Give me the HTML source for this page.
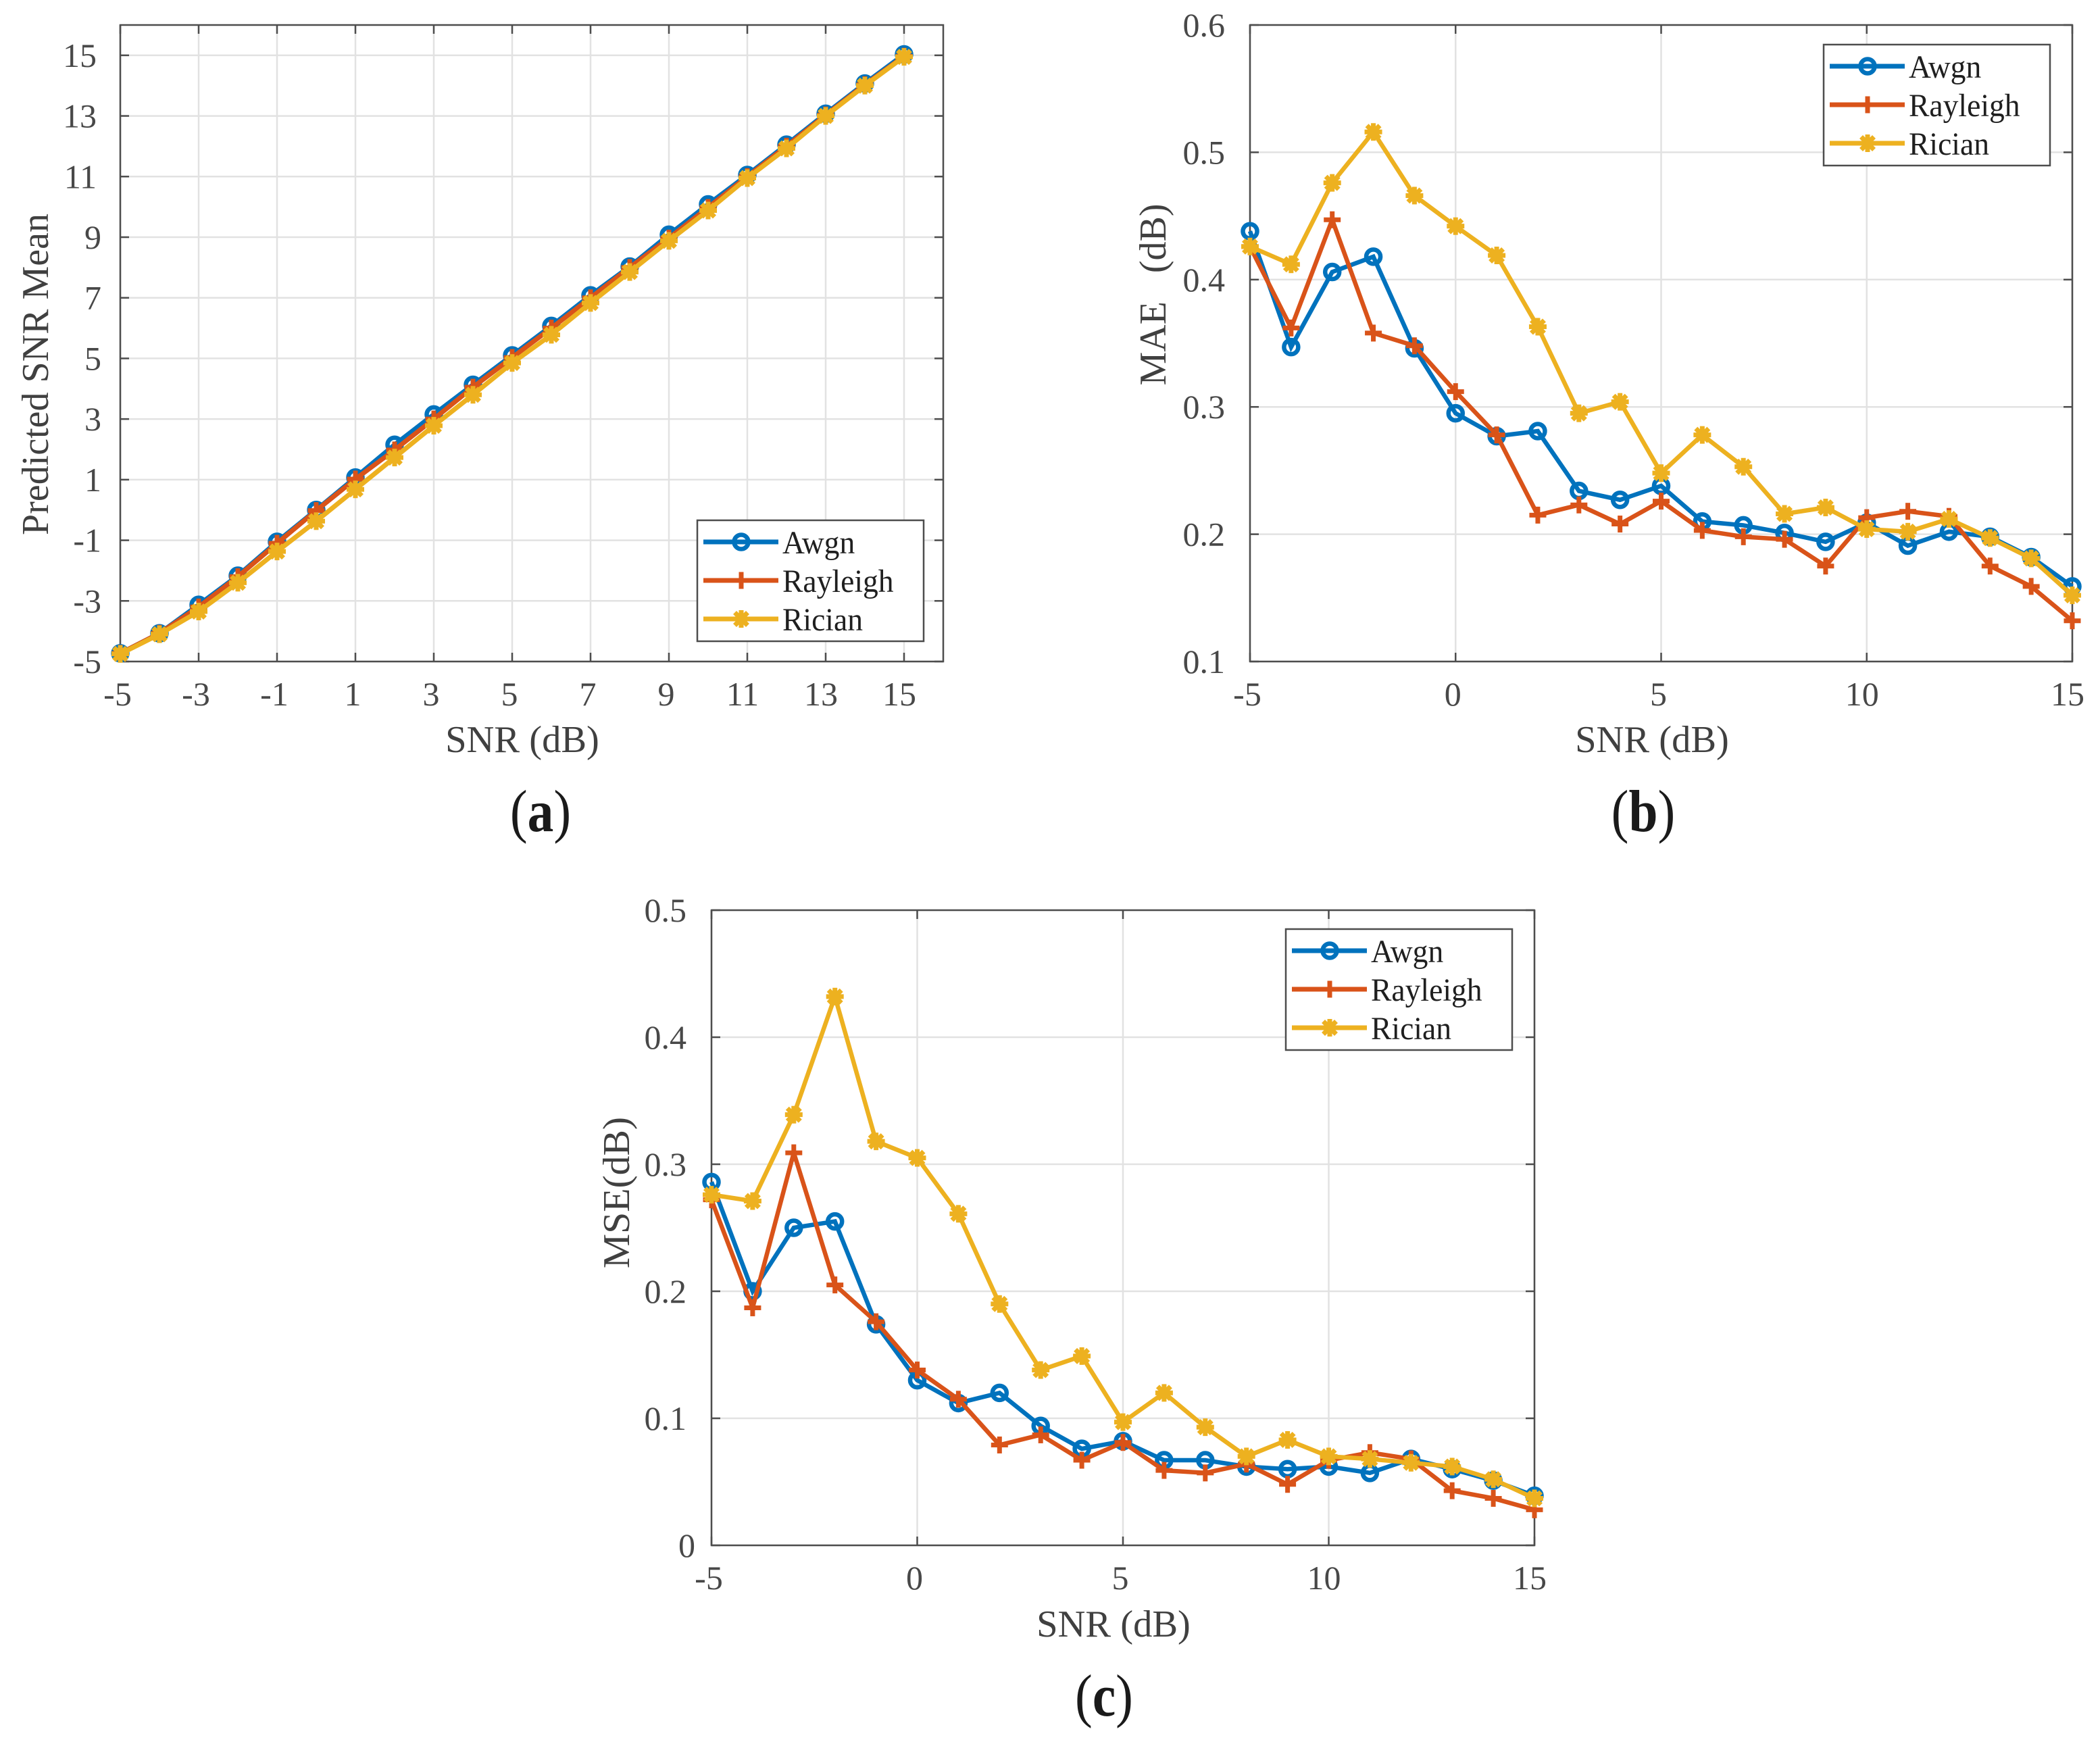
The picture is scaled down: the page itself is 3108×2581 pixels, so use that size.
<!DOCTYPE html>
<html lang="en">
<head>
<meta charset="utf-8">
<title>SNR estimation charts</title>
<style>
html,body{margin:0;padding:0;background:#fff;}
svg{display:block;}
text{font-family:"Liberation Serif",serif;}
</style>
</head>
<body>
<svg id="figure" xmlns="http://www.w3.org/2000/svg" width="3108" height="2581" viewBox="0 0 3108 2581">
  <rect x="0" y="0" width="3108" height="2581" fill="#fff"/>
  <g id="panel-a"></g>
  <g id="panel-b"></g>
  <g id="panel-c"></g>

  <text transform="translate(773,1113) scale(1.01,1)" text-anchor="middle" font-size="56" fill="#404040">SNR (dB)</text>
  <text transform="translate(71,554) rotate(-90)" text-anchor="middle" font-size="56" fill="#404040">Predicted SNR Mean</text>
  <text transform="translate(800,1230) scale(.88,1)" text-anchor="middle" font-size="88" fill="#1a1a1a">(<tspan font-weight="bold">a</tspan>)</text>

  <text transform="translate(2445,1113) scale(1.01,1)" text-anchor="middle" font-size="56" fill="#404040">SNR (dB)</text>
  <text transform="translate(1725,436) rotate(-90)" text-anchor="middle" font-size="56" fill="#404040" xml:space="preserve">MAE   (dB)</text>
  <text transform="translate(2432,1230) scale(.88,1)" text-anchor="middle" font-size="88" fill="#1a1a1a">(<tspan font-weight="bold">b</tspan>)</text>

  <text transform="translate(1648,2422) scale(1.01,1)" text-anchor="middle" font-size="56" fill="#404040">SNR (dB)</text>
  <text transform="translate(931,1765) rotate(-90) scale(1.03,1)" text-anchor="middle" font-size="56" fill="#404040">MSE(dB)</text>
  <text transform="translate(1634,2539) scale(.88,1)" text-anchor="middle" font-size="88" fill="#1a1a1a">(<tspan font-weight="bold">c</tspan>)</text>
</svg>
<script>
const snrValues = [-5,-4,-3,-2,-1,0,1,2,3,4,5,6,7,8,9,10,11,12,13,14,15];
const seriesNames = ['Awgn','Rayleigh','Rician'];

const meanAwgn = [-4.73,-4.07,-3.13,-2.17,-1.05,0.0,1.07,2.15,3.15,4.13,5.1,6.07,7.08,8.03,9.08,10.08,11.05,12.05,13.07,14.07,15.03];
const meanRayleigh = [-4.73,-4.07,-3.2,-2.2,-1.1,-0.02,1.02,1.98,3.0,4.05,5.03,6.0,7.0,8.0,8.97,9.98,11.0,12.0,13.03,14.03,14.97];
const meanRician = [-4.75,-4.1,-3.35,-2.4,-1.37,-0.37,0.68,1.73,2.78,3.8,4.85,5.78,6.83,7.85,8.88,9.88,10.95,11.93,13.0,14.0,14.95];

const maeAwgn = [.438,.347,.406,.418,.346,.295,.277,.281,.234,.227,.238,.21,.207,.201,.194,.209,.191,.202,.198,.182,.159];
const maeRayleigh = [.426,.362,.447,.358,.348,.312,.278,.215,.223,.208,.226,.203,.198,.196,.175,.213,.218,.214,.175,.159,.132];
const maeRician = [.426,.412,.476,.516,.466,.442,.419,.363,.295,.304,.248,.278,.253,.216,.221,.204,.202,.212,.197,.181,.152];

const mseAwgn = [.286,.200,.250,.255,.174,.130,.112,.120,.094,.076,.082,.067,.067,.062,.060,.062,.057,.068,.060,.051,.039];
const mseRayleigh = [.272,.187,.309,.205,.176,.138,.115,.079,.087,.067,.081,.059,.057,.064,.048,.067,.073,.068,.043,.037,.028];
const mseRician = [.276,.271,.339,.432,.318,.305,.261,.190,.138,.149,.097,.120,.093,.070,.083,.070,.068,.065,.062,.052,.037];

const ticksOddX = [-5,-3,-1,1,3,5,7,9,11,13,15];
const ticksOddY = [-5,-3,-1,1,3,5,7,9,11,13,15];
const ticksFiveX = [-5,0,5,10,15];
const ticksMaeY = [0.1,0.2,0.3,0.4,0.5,0.6];
const ticksMseY = [0,0.1,0.2,0.3,0.4,0.5];

const NS = 'http://www.w3.org/2000/svg';
const BLUE = '#0072BD', RED = '#D95319', YELLOW = '#EDB120', AXIS = '#4d4d4d', GRID = '#e2e2e2', LABEL = '#484848';
const colors = [BLUE, RED, YELLOW];

function el(parent, tag, props) {
  const node = document.createElementNS(NS, tag);
  for (const k in props) node.setAttribute(k, props[k]);
  parent.appendChild(node);
  return node;
}

function drawMarker(parent, kind, x, y) {
  const g = el(parent, 'g', {});
  
  
  if (kind === 'Awgn') {
    el(g, 'circle', {cx: x, cy: y, r: 10.5, fill: 'none', stroke: BLUE, 'stroke-width': 6.5});
  } else if (kind === 'Rayleigh') {
    el(g, 'line', {x1: x - 12.5, y1: y, x2: x + 12.5, y2: y, stroke: RED, 'stroke-width': 7});
    el(g, 'line', {x1: x, y1: y - 12.5, x2: x, y2: y + 12.5, stroke: RED, 'stroke-width': 7});
  } else {
    el(g, 'line', {x1: x, y1: y - 13, x2: x, y2: y + 13, stroke: YELLOW, 'stroke-width': 7});
    el(g, 'line', {x1: x - 13, y1: y, x2: x + 13, y2: y, stroke: YELLOW, 'stroke-width': 7});
    el(g, 'line', {x1: x - 9.5, y1: y - 9.5, x2: x + 9.5, y2: y + 9.5, stroke: YELLOW, 'stroke-width': 7});
    el(g, 'line', {x1: x - 9.5, y1: y + 9.5, x2: x + 9.5, y2: y - 9.5, stroke: YELLOW, 'stroke-width': 7});
    el(g, 'circle', {cx: x, cy: y, r: 8.5, fill: YELLOW});
  }
}

function fmt(v, decimals) {
  if (v === 0) return '0';
  return decimals ? v.toFixed(decimals) : String(v);
}

// Gap between the axis and a y tick label, which varies with the label's shape in the source figure.
function yLabelGap(text) {
  if (text === '0') return 24;
  if (text.indexOf('.') >= 0) return 37;
  return /^\d\d$/.test(text) ? 35 : 28;
}

function drawPanel(p) {
  const root = document.getElementById(p.id);
  const sx = v => p.left + (v - p.xMin) / (p.xMax - p.xMin) * (p.right - p.left);
  const sy = v => p.bottom - (v - p.yMin) / (p.yMax - p.yMin) * (p.bottom - p.top);

  // grid
  p.xTicks.forEach(t => {
    const l = el(root, 'line', {x1: sx(t), y1: p.top, x2: sx(t), y2: p.bottom, stroke: GRID, 'stroke-width': 2.5});
    
    
  });
  p.yTicks.forEach(t => {
    const l = el(root, 'line', {x1: p.left, y1: sy(t), x2: p.right, y2: sy(t), stroke: GRID, 'stroke-width': 2.5});
    
    
  });

  // inward ticks on all sides
  p.xTicks.forEach(t => {
    el(root, 'line', {x1: sx(t), y1: p.bottom, x2: sx(t), y2: p.bottom - 13, stroke: AXIS, 'stroke-width': 2.5});
    el(root, 'line', {x1: sx(t), y1: p.top, x2: sx(t), y2: p.top + 13, stroke: AXIS, 'stroke-width': 2.5});
    const text = fmt(t, 0);
    const shift = t >= 10 ? 7 : 4;
    const label = el(root, 'text', {
      transform: 'translate(' + (sx(t) - shift) + ',' + (p.bottom + 65) + ')',
      'text-anchor': 'middle', 'font-size': 50, fill: LABEL
    });
    
    
    label.textContent = text;
  });
  p.yTicks.forEach(t => {
    el(root, 'line', {x1: p.left, y1: sy(t), x2: p.left + 13, y2: sy(t), stroke: AXIS, 'stroke-width': 2.5});
    el(root, 'line', {x1: p.right, y1: sy(t), x2: p.right - 13, y2: sy(t), stroke: AXIS, 'stroke-width': 2.5});
    const text = fmt(t, p.yDecimals);
    const label = el(root, 'text', {
      transform: 'translate(' + (p.left - yLabelGap(text)) + ',' + (sy(t) + 17) + ')',
      'text-anchor': 'end', 'font-size': 50, fill: LABEL
    });
    
    
    label.textContent = text;
  });

  // axes box
  const box = el(root, 'rect', {x: p.left, y: p.top, width: p.right - p.left, height: p.bottom - p.top, fill: 'none', stroke: AXIS, 'stroke-width': 2.5});
  
  

  // series
  p.series.forEach((vals, i) => {
    const g = el(root, 'g', {});
    
    
    const pts = vals.map((v, j) => sx(snrValues[j]).toFixed(2) + ',' + sy(v).toFixed(2)).join(' ');
    el(g, 'polyline', {points: pts, fill: 'none', stroke: colors[i], 'stroke-width': p.lw, 'stroke-linejoin': 'miter'});
    vals.forEach((v, j) => drawMarker(g, seriesNames[i], sx(snrValues[j]), sy(v)));
  });

  // legend
  const lg = el(root, 'g', {});
  
  
  el(lg, 'rect', {x: p.legX, y: p.legY, width: 335, height: 179, fill: '#fff', stroke: AXIS, 'stroke-width': 2.5});
  seriesNames.forEach((name, i) => {
    const row = el(lg, 'g', {});
    
    
    const y = p.legY + 32 + i * 57;
    el(row, 'line', {x1: p.legX + 9, y1: y, x2: p.legX + 120, y2: y, stroke: colors[i], 'stroke-width': 7});
    drawMarker(row, name, p.legX + 65, y);
    const t = el(row, 'text', {
      transform: 'translate(' + (p.legX + 126) + ',' + (y + 17) + ') scale(.95,1)',
      'font-size': 48, fill: '#1f1f1f'
    });
    t.textContent = name;
  });
}

drawPanel({
  id: 'panel-a', left: 178, right: 1396, top: 37, bottom: 979,
  xMin: -5, xMax: 16, yMin: -5, yMax: 16,
  xTicks: ticksOddX, yTicks: ticksOddY, yDecimals: 0, lw: 7,
  series: [meanAwgn, meanRayleigh, meanRician], legX: 1032, legY: 770
});
drawPanel({
  id: 'panel-b', left: 1850, right: 3067, top: 37, bottom: 979,
  xMin: -5, xMax: 15, yMin: 0.1, yMax: 0.6,
  xTicks: ticksFiveX, yTicks: ticksMaeY, yDecimals: 1, lw: 6.5,
  series: [maeAwgn, maeRayleigh, maeRician], legX: 2699, legY: 66
});
drawPanel({
  id: 'panel-c', left: 1053, right: 2271, top: 1347, bottom: 2287,
  xMin: -5, xMax: 15, yMin: 0, yMax: 0.5,
  xTicks: ticksFiveX, yTicks: ticksMseY, yDecimals: 1, lw: 6.5,
  series: [mseAwgn, mseRayleigh, mseRician], legX: 1903, legY: 1375
});
</script>
</body>
</html>
